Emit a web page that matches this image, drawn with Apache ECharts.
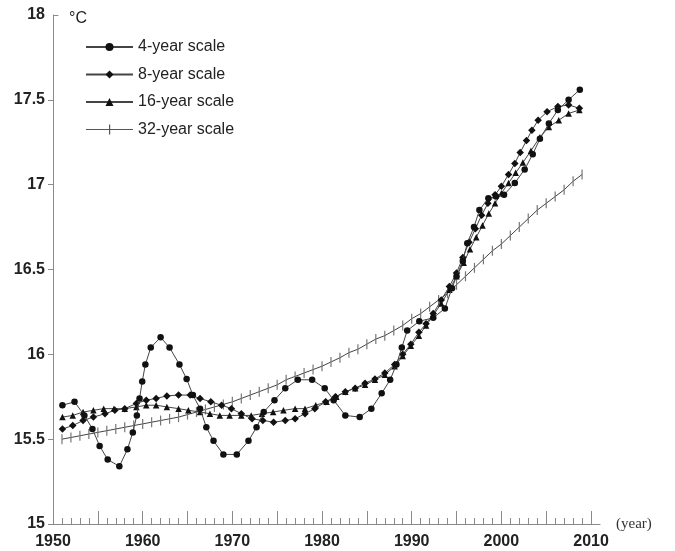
<!DOCTYPE html>
<html>
<head>
<meta charset="utf-8">
<script src="https://cdn.jsdelivr.net/npm/echarts@6/dist/echarts.min.js"></script>
<style>html,body{margin:0;padding:0;background:#fff}#c{width:675px;height:551px}</style>
</head>
<body>
<div id="c"></div>
<script>
// ---- data ----
var seriesNames = ['4-year scale', '8-year scale', '16-year scale', '32-year scale'];

var years4 = [1951.05,1952.4,1953.5,1954.4,1955.2,1956.1,1957.4,1958.3,1958.9,1959.35,1959.65,1959.95,1960.3,1960.9,1962.0,1963.0,1964.1,1964.9,1965.6,1966.4,1967.1,1967.9,1969.0,1970.5,1971.8,1972.7,1973.5,1974.7,1975.9,1977.3,1978.9,1980.3,1981.3,1982.6,1984.2,1985.5,1986.65,1987.6,1988.3,1988.9,1989.5,1990.85,1992.4,1993.7,1994.5,1995.0,1995.7,1996.2,1996.95,1997.55,1998.55,1999.4,2000.3,2001.5,2002.6,2003.5,2004.3,2005.3,2006.3,2007.5,2008.75];
var temp4  = [15.70,15.72,15.64,15.56,15.46,15.38,15.34,15.44,15.54,15.64,15.74,15.84,15.94,16.04,16.10,16.04,15.94,15.855,15.76,15.68,15.57,15.49,15.41,15.41,15.49,15.57,15.66,15.73,15.80,15.85,15.85,15.80,15.73,15.64,15.63,15.68,15.77,15.85,15.94,16.04,16.14,16.195,16.215,16.27,16.39,16.46,16.55,16.655,16.75,16.85,16.92,16.93,16.94,17.01,17.09,17.18,17.27,17.36,17.44,17.50,17.56];

var years8 = [1951.05,1952.2,1953.35,1954.5,1955.8,1956.9,1958.0,1959.3,1960.4,1961.5,1962.7,1964.0,1965.3,1966.4,1967.6,1968.8,1969.9,1971.0,1972.2,1973.4,1974.6,1975.9,1977.0,1978.1,1979.2,1980.4,1981.5,1982.6,1983.7,1984.8,1985.9,1987.0,1988.1,1989.0,1989.9,1990.8,1991.6,1992.4,1993.3,1994.2,1995.0,1995.7,1996.4,1997.1,1997.8,1998.5,1999.3,2000.0,2000.8,2001.5,2002.1,2002.8,2003.4,2004.1,2005.1,2006.3,2007.5,2008.7];
var temp8  = [15.56,15.58,15.61,15.63,15.65,15.67,15.68,15.71,15.73,15.74,15.755,15.76,15.76,15.74,15.72,15.70,15.68,15.65,15.62,15.61,15.60,15.61,15.62,15.65,15.68,15.72,15.75,15.78,15.80,15.83,15.855,15.89,15.94,16.00,16.06,16.13,16.18,16.24,16.32,16.40,16.48,16.57,16.66,16.74,16.82,16.89,16.94,16.99,17.06,17.125,17.19,17.26,17.32,17.38,17.43,17.46,17.47,17.45];

var years16 = [1951.05,1952.2,1953.35,1954.5,1955.65,1956.8,1958.0,1959.3,1960.4,1961.5,1962.7,1964.0,1965.1,1966.4,1967.5,1968.6,1969.7,1971.0,1972.1,1973.3,1974.55,1975.7,1977.0,1978.1,1979.3,1980.5,1981.6,1982.6,1983.7,1984.8,1985.9,1987.0,1988.1,1989.0,1989.9,1990.8,1991.6,1992.4,1993.3,1994.2,1995.0,1995.8,1996.5,1997.2,1997.9,1998.6,1999.3,2000.0,2000.8,2001.6,2002.4,2003.3,2004.3,2005.3,2006.4,2007.5,2008.7];
var temp16  = [15.63,15.64,15.66,15.67,15.68,15.68,15.68,15.69,15.70,15.70,15.69,15.68,15.67,15.66,15.65,15.64,15.64,15.64,15.64,15.65,15.66,15.67,15.68,15.68,15.70,15.72,15.75,15.78,15.80,15.82,15.85,15.88,15.93,15.99,16.05,16.11,16.17,16.23,16.30,16.38,16.46,16.54,16.62,16.69,16.76,16.83,16.89,16.95,17.01,17.07,17.13,17.20,17.28,17.34,17.38,17.42,17.44];

var years32 = [1951,1952,1953,1954,1955,1956,1957,1958,1959,1960,1961,1962,1963,1964,1965,1966,1967,1968,1969,1970,1971,1972,1973,1974,1975,1976,1977,1978,1979,1980,1981,1982,1983,1984,1985,1986,1987,1988,1989,1990,1991,1992,1993,1994,1995,1996,1997,1998,1999,2000,2001,2002,2003,2004,2005,2006,2007,2008,2009];
var temp32  = [15.50,15.51,15.52,15.53,15.54,15.55,15.56,15.57,15.58,15.59,15.60,15.61,15.62,15.63,15.645,15.66,15.675,15.69,15.705,15.72,15.74,15.76,15.78,15.80,15.82,15.85,15.87,15.89,15.91,15.93,15.955,15.98,16.01,16.03,16.06,16.09,16.11,16.14,16.17,16.21,16.24,16.28,16.32,16.36,16.41,16.46,16.51,16.56,16.61,16.65,16.70,16.75,16.80,16.85,16.89,16.93,16.97,17.02,17.06];

var xLabelTicks = [1950,1960,1970,1980,1990,2000,2010];
var xMajorTicks = [1950,1955,1960,1965,1970,1975,1980,1985,1990,1995,2000,2005,2010];
var xMinorTicks = [1951,1952,1953,1954,1956,1957,1958,1959,1961,1962,1963,1964,1966,1967,1968,1969,1971,1972,1973,1974,1976,1977,1978,1979,1981,1982,1983,1984,1986,1987,1988,1989,1991,1992,1993,1994,1996,1997,1998,1999,2001,2002,2003,2004,2006,2007,2008,2009];
var yTicks = [15,15.5,16,16.5,17,17.5];

function pairs(xs, ys){ return xs.map(function(x,i){ return [x, ys[i]]; }); }

var lineColor = '#444';
var markColor = '#111';
var axisColor = '#8a8a8a';
var sansFont = 'Liberation Sans, Arial, sans-serif';
var tickIcon = 'path://M0,4.5L47,4.5L47,5.5L0,5.5Z M23,0L24.2,0L24.2,10L23,10Z';

var chart = echarts.init(document.getElementById('c'), null, {renderer:'canvas'});
chart.setOption({
  animation:false,
  backgroundColor:'#fff',
  grid:{left:53, right:75, top:15, bottom:27, containLabel:false},
  legend:{
    data:[
      {name:seriesNames[0]},
      {name:seriesNames[1]},
      {name:seriesNames[2]},
      {name:seriesNames[3], icon:tickIcon, itemStyle:{color:'#555'}}
    ],
    orient:'vertical', left:80, top:34,
    itemWidth:47, itemHeight:10, itemGap:11.5,
    textStyle:{fontFamily:sansFont, fontSize:16, color:'#222'}
  },
  xAxis:[{
    type:'value', min:1950, max:2011,
    name:'(year)', nameLocation:'end', nameGap:16,
    nameTextStyle:{fontFamily:'Liberation Serif, Times New Roman, serif', fontSize:15, color:'#333', align:'left', verticalAlign:'middle'},
    axisLine:{show:true, onZero:false, lineStyle:{color:axisColor, width:1}},
    axisTick:{show:true, inside:true, length:13, customValues:xMajorTicks, lineStyle:{color:axisColor}},
    axisLabel:{customValues:xLabelTicks, margin:10, fontFamily:sansFont, fontWeight:'bold', fontSize:16, color:'#222',
      formatter:function(v){ return String(v); }},
    splitLine:{show:false}
  },{
    type:'value', min:1950, max:2011, position:'bottom',
    axisLine:{show:false},
    axisTick:{show:true, inside:true, length:6, customValues:xMinorTicks, lineStyle:{color:axisColor}},
    axisLabel:{show:false},
    splitLine:{show:false}
  }],
  yAxis:{
    type:'value', min:15, max:18, interval:0.5,
    name:'°C', nameLocation:'end', nameGap:-4,
    nameTextStyle:{fontFamily:sansFont, fontSize:16, color:'#222', align:'left', verticalAlign:'middle', padding:[0,0,0,16]},
    axisLine:{show:true, lineStyle:{color:axisColor, width:1}},
    axisTick:{show:true, inside:false, length:5, customValues:yTicks, lineStyle:{color:axisColor}},
    axisLabel:{margin:8, fontFamily:sansFont, fontWeight:'bold', fontSize:16, color:'#222'},
    splitLine:{show:false}
  },
  series:[
    {name:seriesNames[3], type:'line', data:pairs(years32,temp32), symbol:'rect', symbolSize:[1.2,10], showAllSymbol:true,
     lineStyle:{color:lineColor, width:1}, itemStyle:{color:'#777'}, z:2,
     markLine:{silent:true, symbol:'none', label:{show:false}, lineStyle:{color:axisColor, width:1, type:'solid'},
       data:[[{coord:[1950,18]},{coord:[1950.6,18]}]]}},
    {name:seriesNames[2], type:'line', data:pairs(years16,temp16), symbol:'triangle', symbolSize:6.5, showAllSymbol:true,
     lineStyle:{color:lineColor, width:1}, itemStyle:{color:markColor}, z:3},
    {name:seriesNames[1], type:'line', data:pairs(years8,temp8), symbol:'diamond', symbolSize:7.5, showAllSymbol:true,
     lineStyle:{color:lineColor, width:1}, itemStyle:{color:markColor}, z:4},
    {name:seriesNames[0], type:'line', data:pairs(years4,temp4), symbol:'circle', symbolSize:6.5, showAllSymbol:true,
     lineStyle:{color:lineColor, width:1}, itemStyle:{color:markColor}, z:5}
  ]
});
</script>
</body>
</html>
